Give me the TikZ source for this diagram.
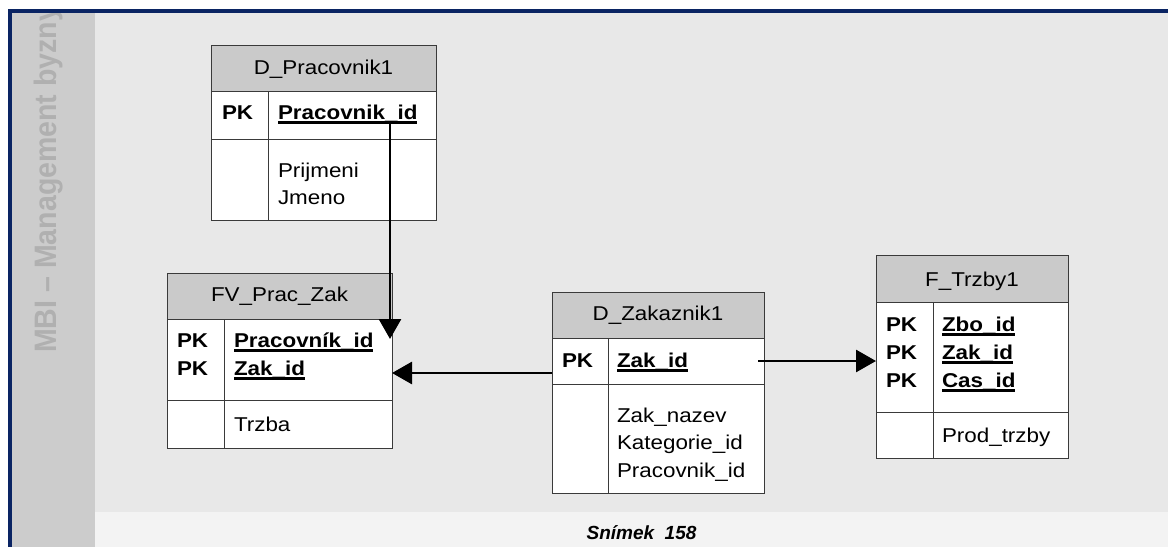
\documentclass[tikz,border=0pt]{standalone}
\usepackage{fontspec}
\setmainfont[FakeStretch=1.12]{Liberation Sans}
\newfontfamily\sidefont[FakeStretch=0.92]{Liberation Sans}
\newfontfamily\capfont{Liberation Sans}
\usetikzlibrary{arrows.meta,calc}

\definecolor{navy}{HTML}{0A2463}
\definecolor{bandbg}{HTML}{CCCCCC}
\definecolor{mainbg}{HTML}{E8E8E8}
\definecolor{stripbg}{HTML}{F3F3F3}
\definecolor{hdrfill}{HTML}{CACACA}
\definecolor{boxline}{HTML}{3A3A3A}
\definecolor{sidegray}{HTML}{B0B0B0}

\tikzset{
  tablebox/.style={draw=boxline, line width=0.9pt, fill=white, inner sep=0pt, outer sep=0pt},
  grid/.style={draw=boxline, line width=0.9pt},
  txt/.style={inner sep=0pt, outer sep=0pt, anchor=base west, font=\fontsize{20}{27}\selectfont},
  hdrtxt/.style={txt, anchor=base},
  keytxt/.style={txt, font=\fontsize{20}{27}\selectfont\bfseries},
  keyline/.style={line width=2.2pt},
  fk/.style={line width=2.8pt, -{Triangle[length=20pt,width=22pt]}},
}

% one entity table: name, x, y, width, height, header height, key block height, column offset
\newcommand\ertable[8]{%
  \node[tablebox, minimum width=#4pt, minimum height=#5pt, anchor=north west] (#1) at (#2,#3) {};
  \fill[hdrfill] (#1.north west) rectangle ($(#1.north west)+(#4,#6)$);
  \draw[grid] ($(#1.north west)+(0,#6)$) -- ++(#4,0)
              ($(#1.north west)+(0,#6+#7)$) -- ++(#4,0)
              ($(#1.north west)+(#8,#6)$) -- ($(#1.south west)+(#8,0)$);
  \draw[grid] (#1.north west) rectangle (#1.south east);
}
% an underlined primary-key field: name, x, baseline y, text
\newcommand\keyfield[4]{%
  \node[keytxt] (#1) at (#2,#3) {#4};
  \draw[keyline] ($(#1.base west)+(0,3.5)$) -- ($(#1.base east)+(0,3.5)$);
}

\begin{document}
\begin{tikzpicture}[x=1pt,y=-1pt]
\useasboundingbox (0,0) rectangle (1168,547);
% slide frame
\fill[white] (0,0) rectangle (1168,547);
\fill[mainbg] (95,13) rectangle (1168,512);
\fill[stripbg] (95,512) rectangle (1168,547);
\fill[bandbg] (12,13) rectangle (95,547);
\fill[navy] (8,9) rectangle (1168,13);
\fill[navy] (8,9) rectangle (12,547);
\begin{scope}
  \clip (12,13) rectangle (95,547);
  \node[rotate=90, anchor=base west, inner sep=0pt, text=sidegray,
        font=\sidefont\bfseries\fontsize{31}{31}\selectfont] (side) at (56,353) {MBI – Management byzny};
\end{scope}
\node[inner sep=0pt, anchor=base, font=\capfont\bfseries\itshape\fontsize{19}{19}\selectfont] (caption) at (641.5,539) {Snímek\ \ 158};

% D_Pracovnik1
\ertable{prac}{211}{45}{225}{175}{46}{48}{57}
\node[hdrtxt] (pracT) at (323.5,74) {D\_Pracovnik1};
\node[keytxt] (pracPK) at (222,119) {PK};
\keyfield{pracId}{278}{119}{Pracovnik\_id}
\node[txt] (pracA) at (278,177) {Prijmeni};
\node[txt] (pracB) at (278,204) {Jmeno};

% FV_Prac_Zak
\ertable{fvpz}{167}{273}{225}{175}{46}{81}{57}
\node[hdrtxt] (fvpzT) at (279.5,301) {FV\_Prac\_Zak};
\node[keytxt] (fvpzPK1) at (177,347) {PK};
\node[keytxt] (fvpzPK2) at (177,375) {PK};
\keyfield{fvpzPrac}{234}{347}{Pracovník\_id}
\keyfield{fvpzZak}{234}{375}{Zak\_id}
\node[txt] (fvpzA) at (234,431) {Trzba};

% D_Zakaznik1
\ertable{zak}{552}{292}{212}{201}{46}{46}{56}
\node[hdrtxt] (zakT) at (658,320) {D\_Zakaznik1};
\node[keytxt] (zakPK) at (562,367) {PK};
\keyfield{zakId}{617}{367}{Zak\_id}
\node[txt] (zakA) at (617,422) {Zak\_nazev};
\node[txt] (zakB) at (617,449.5) {Kategorie\_id};
\node[txt] (zakC) at (617,477) {Pracovnik\_id};

% F_Trzby1
\ertable{trz}{876}{255}{192}{203}{47}{110}{57}
\node[hdrtxt] (trzT) at (972,286) {F\_Trzby1};
\node[keytxt] (trzPK1) at (886,331) {PK};
\node[keytxt] (trzPK2) at (886,359) {PK};
\node[keytxt] (trzPK3) at (886,387) {PK};
\keyfield{trzZbo}{942}{331}{Zbo\_id}
\keyfield{trzZak}{942}{359}{Zak\_id}
\keyfield{trzCas}{942}{387}{Cas\_id}
\node[txt] (trzA) at (942,442) {Prod\_trzby};

% relationships
\coordinate (pracLink) at (390,122);
\coordinate (fvpzTop) at (390,339);
\coordinate (zakLeft) at (zak.west |- 0,373);
\coordinate (fvpzRight) at (fvpz.east |- 0,373);
\coordinate (zakRight) at (758,361);
\coordinate (trzLeft) at (trz.west |- 0,361);
\draw[fk] (pracLink) -- (fvpzTop);
\draw[fk] (zakLeft) -- (fvpzRight);
\draw[fk] (zakRight) -- (trzLeft);
\end{tikzpicture}
\end{document}
